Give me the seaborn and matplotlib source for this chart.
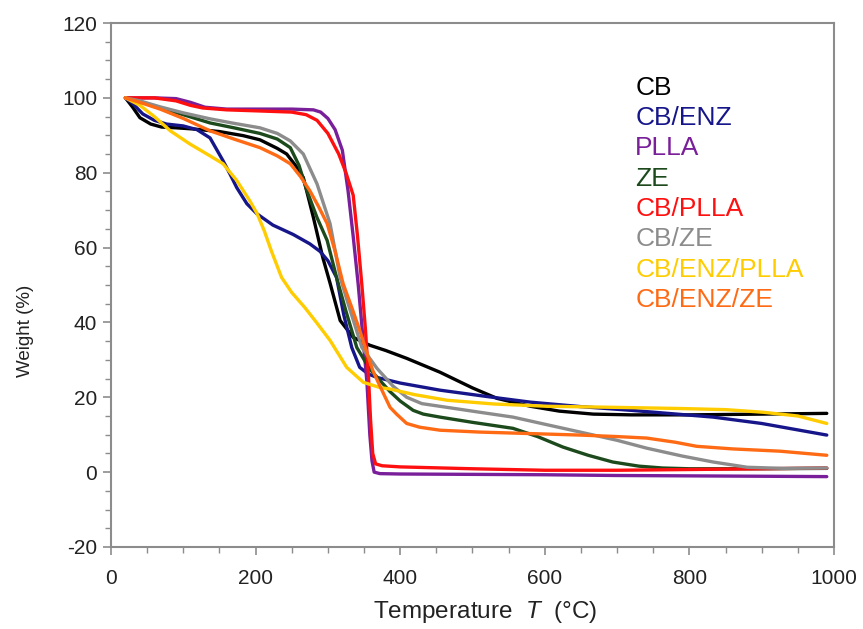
import pandas as pd
import numpy as np
import seaborn as sns
import matplotlib.pyplot as plt
from matplotlib.ticker import MultipleLocator

sns.set_theme(style="white")
plt.rcParams['font.family'] = ['Liberation Sans', 'DejaVu Sans']
plt.rcParams['mathtext.fontset'] = 'custom'
plt.rcParams['mathtext.rm'] = 'Liberation Sans'
plt.rcParams['mathtext.it'] = 'Liberation Sans:italic'
plt.rcParams['axes.unicode_minus'] = False

# --- data (temperature in °C, weight in %) ---
cb_t = [20, 30, 40, 55, 70, 90, 113, 150, 183, 206, 230, 243, 255, 266, 280, 293, 303, 317, 335, 358,
        380, 409, 455, 500, 534, 580, 620, 667, 720, 800, 900, 990]
cb_w = [100, 97.5, 94.7, 93, 92.2, 92, 91.7, 91, 89.9, 88.8, 86.5, 85, 82, 78.7, 68, 57.3, 50.5, 40.5, 36, 33.9,
        32.5, 30.4, 26.7, 22.5, 19.7, 17.6, 16.3, 15.5, 15.3, 15.3, 15.5, 15.7]

enz_t = [20, 30, 44, 60, 77, 100, 119, 137, 155, 165, 174, 188, 202, 224, 252, 275, 289, 300, 312, 322,
         333, 344, 356, 368, 400, 455, 520, 580, 650, 720, 833, 900, 990]
enz_w = [100, 98.5, 95.7, 94, 93, 92.5, 91.5, 89.3, 83.2, 79.5, 76, 71.7, 69, 66, 63.5, 61, 59, 56.5, 52, 42,
         33.3, 28, 26.2, 25.3, 23.8, 21.9, 20.2, 18.7, 17.5, 16.5, 14.7, 13, 9.9]

plla_t = [20, 60, 90, 110, 130, 160, 200, 250, 280, 290, 300, 310, 320, 328, 335, 342, 348, 354, 358, 361,
          364, 372, 400, 500, 600, 700, 800, 900, 990]
plla_w = [100, 100, 99.8, 98.8, 97.5, 97, 97, 97, 96.8, 96.2, 94.5, 91.5, 86, 75, 63, 50, 37, 24, 10, 3,
          0, -0.4, -0.5, -0.6, -0.7, -0.9, -1.0, -1.1, -1.2]

ze_t = [20, 40, 68, 100, 137, 170, 206, 230, 248, 260, 271, 285, 299, 312, 325, 340, 358, 372, 386, 400,
        418, 432, 455, 500, 556, 590, 625, 660, 694, 730, 763, 800, 900, 990]
ze_w = [100, 99, 97.3, 95.5, 93.3, 92, 90.5, 89, 86.7, 82, 75.2, 68, 61.9, 52, 43, 33.3, 27.5, 24.5, 21.5, 19,
        16.5, 15.5, 14.7, 13.3, 11.7, 9.5, 6.7, 4.5, 2.7, 1.6, 1.1, 0.9, 0.9, 1.0]

cbplla_t = [20, 60, 90, 110, 127, 160, 206, 250, 270, 285, 300, 315, 325, 335, 341, 347, 352, 356, 359, 362,
            366, 375, 400, 500, 600, 700, 800, 900, 990]
cbplla_w = [100, 100, 99.2, 98, 97.3, 96.8, 96.5, 96.2, 95.5, 94, 90.5, 85, 80, 74, 63, 50, 38, 26, 14, 5,
            2.2, 1.7, 1.4, 0.9, 0.5, 0.5, 0.7, 0.9, 1.1]

cbze_t = [20, 40, 68, 100, 137, 170, 206, 230, 248, 266, 285, 303, 317, 328, 347, 368, 390, 409, 430, 465,
          510, 556, 600, 649, 700, 741, 790, 833, 880, 930, 990]
cbze_w = [100, 99.2, 97.6, 96, 94.4, 93.2, 92, 90.5, 88.5, 85, 77, 66.4, 52, 45, 33.3, 27.7, 23, 20, 18.3, 17.3,
          16, 14.7, 12.8, 10.7, 8.5, 6.4, 4.3, 2.7, 1.3, 1.0, 1.1]

enzplla_t = [20, 40, 60, 82, 109, 137, 155, 174, 192, 202, 212, 222, 236, 250, 268, 285, 303, 326, 349, 372,
             386, 420, 465, 530, 603, 700, 787, 850, 902, 950, 990]
enzplla_w = [100, 98, 95, 91.2, 87.7, 84.5, 82.4, 77.9, 72.5, 69.1, 64.5, 59, 52, 48, 44, 39.8, 35.2, 28, 24, 22.6,
             22.2, 20.7, 19.2, 18.2, 17.6, 17.3, 17, 16.7, 16, 15, 13]

enzze_t = [20, 40, 68, 100, 137, 170, 206, 230, 248, 262, 275, 287, 299, 310, 321, 333, 344, 353, 362, 372,
           386, 395, 409, 427, 455, 510, 580, 649, 700, 741, 780, 810, 860, 925, 990]
enzze_w = [100, 98.8, 97, 94.5, 91.2, 89, 86.7, 84.5, 82.4, 79, 75.2, 71, 66.4, 59, 50.4, 44, 37.9, 32.5, 27.2, 23,
           17.3, 15.5, 13, 12, 11.2, 10.7, 10.3, 9.9, 9.5, 9.1, 8, 6.9, 6.2, 5.6, 4.5]

samples = ["CB", "CB/ENZ", "PLLA", "ZE", "CB/PLLA", "CB/ZE", "CB/ENZ/PLLA", "CB/ENZ/ZE"]
colors = ["#000000", "#16168a", "#7a1f9a", "#1c4a1c", "#ff1010", "#8c8c8c", "#ffcc00", "#ff6a14"]

series = {
    "CB": (cb_t, cb_w),
    "CB/ENZ": (enz_t, enz_w),
    "PLLA": (plla_t, plla_w),
    "ZE": (ze_t, ze_w),
    "CB/PLLA": (cbplla_t, cbplla_w),
    "CB/ZE": (cbze_t, cbze_w),
    "CB/ENZ/PLLA": (enzplla_t, enzplla_w),
    "CB/ENZ/ZE": (enzze_t, enzze_w),
}
df = pd.concat(
    [pd.DataFrame({"T": t, "W": w, "sample": name}) for name, (t, w) in series.items()],
    ignore_index=True,
)

fig = plt.figure(figsize=(8.63, 6.29), dpi=100)
ax = fig.add_axes([0.1286, 0.1304, 0.8378, 0.833])

sns.lineplot(
    data=df, x="T", y="W", hue="sample", hue_order=samples,
    palette=dict(zip(samples, colors)), estimator=None, sort=False,
    linewidth=2.4, ax=ax,
)

ax.set_xlim(0, 1000)
ax.set_ylim(-20, 120)
ax.xaxis.set_major_locator(MultipleLocator(200))
ax.xaxis.set_minor_locator(MultipleLocator(50))
ax.yaxis.set_major_locator(MultipleLocator(20))
ax.yaxis.set_minor_locator(MultipleLocator(5))
ax.tick_params(which="major", direction="out", length=6, width=1.2, color="#8c8c8c",
               labelsize=15, labelcolor="#222222", bottom=True, left=True)
ax.tick_params(axis="x", which="major", pad=10)
ax.tick_params(axis="y", which="major", pad=4)
ax.tick_params(which="minor", direction="out", length=4, width=1.0, color="#8c8c8c",
               bottom=True, left=True)
for sp in ax.spines.values():
    sp.set_color("#8c8c8c")
    sp.set_linewidth(1.5)

ax.set_xlabel(r"Temperature  $T$  (°C)", fontsize=17.5, color="#222222")
ax.xaxis.set_label_coords(0.517, -0.100)
ax.set_ylabel("Weight (%)", fontsize=13.5, color="#222222")
ax.yaxis.set_label_coords(-0.107, 0.413)

leg = ax.legend(loc="upper left", bbox_to_anchor=(0.707, 0.925), frameon=False,
                handlelength=0, handletextpad=0, borderpad=0, labelspacing=0.24,
                labelcolor="linecolor", fontsize=19)
for h in leg.legend_handles:
    h.set_visible(False)

fig.savefig("out.png", dpi=100)
